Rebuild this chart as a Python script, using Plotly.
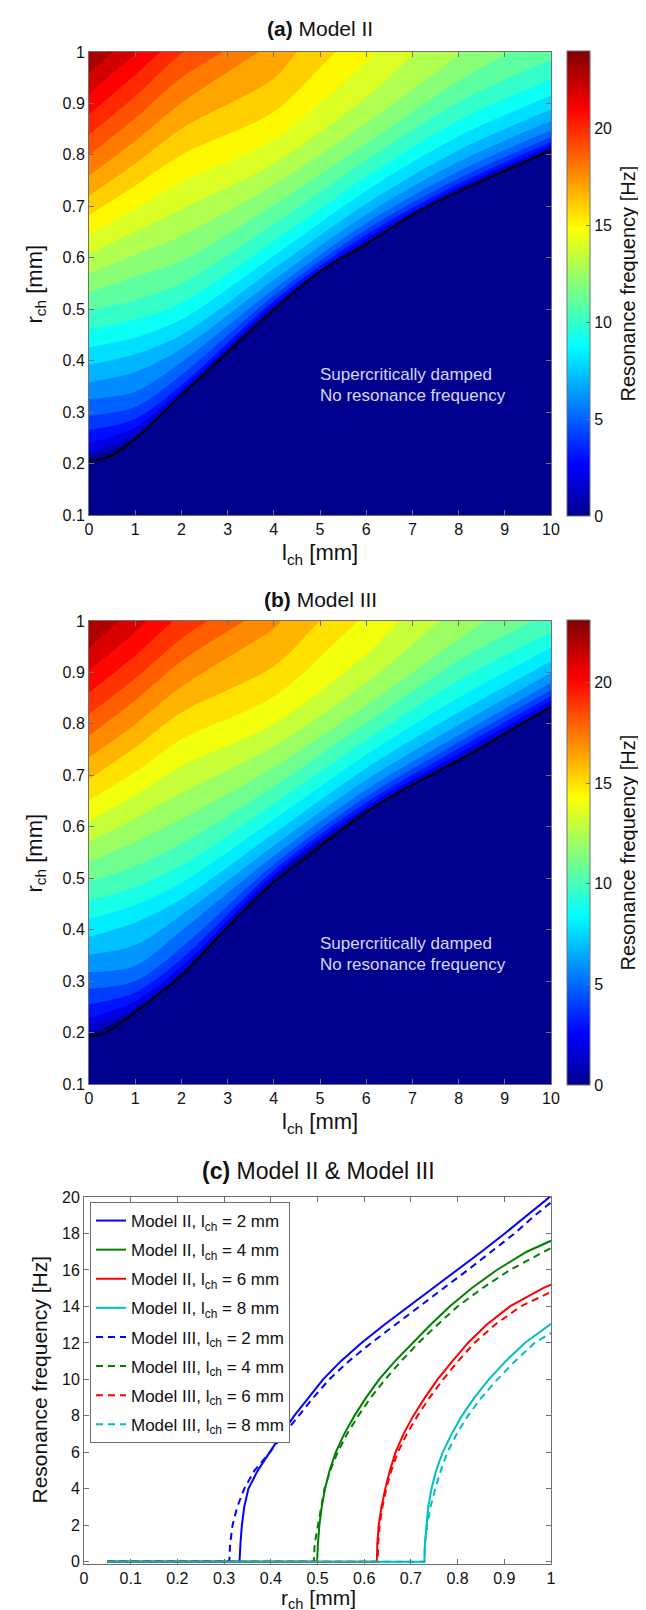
import plotly.graph_objects as go

# ---- panels (a) / (b): r_ch [mm] where the resonance frequency reaches 1, 2, 3 ... Hz,
#      read along a few channel lengths l_ch [mm] ----
l_cols = [0, 1, 2, 4, 6, 8, 10]

a_l0 = [0.210, 0.220, 0.240, 0.265, 0.293, 0.325, 0.358, 0.392, 0.426, 0.461, 0.497, 0.533,
        0.570, 0.607, 0.645, 0.683, 0.721, 0.760, 0.799, 0.839, 0.879, 0.919, 0.959]
a_l1 = [0.251, 0.258, 0.270, 0.287, 0.310, 0.340, 0.378, 0.413, 0.445, 0.479, 0.518, 0.563,
        0.606, 0.651, 0.696, 0.740, 0.783, 0.827, 0.871, 0.914, 0.956, 0.997]
a_l2 = [0.335, 0.338, 0.343, 0.352, 0.372, 0.397, 0.423, 0.450, 0.480, 0.512, 0.550, 0.594,
        0.643, 0.695, 0.748, 0.800, 0.851, 0.901, 0.950, 0.997]
a_l4 = [0.501, 0.504, 0.509, 0.516, 0.526, 0.539, 0.557, 0.579, 0.604, 0.632, 0.666, 0.703,
        0.742, 0.783, 0.830, 0.884, 0.948]
a_l6 = [0.628, 0.631, 0.637, 0.645, 0.655, 0.667, 0.684, 0.705, 0.730, 0.757, 0.789, 0.822,
        0.862, 0.912, 0.983]
a_l8 = [0.730, 0.733, 0.737, 0.744, 0.754, 0.768, 0.787, 0.809, 0.836, 0.867, 0.903, 0.944, 0.995]
a_l10 = [0.810, 0.813, 0.818, 0.825, 0.835, 0.848, 0.866, 0.888, 0.915, 0.947, 0.985]
# frequency at the top edge r_ch = 1 for each column [Hz]
a_ftop = [24.0, 22.0, 20.1, 17.6, 15.2, 13.05, 11.2]
# l_ch where each level leaves through the top edge (None: it does not)
a_exit = [None] * 11 + [9.1, 8.05, 7.09, 6.18, 5.33, 4.5, 3.68, 2.88, 2.08, 1.54, 1.03, 0.51]

b_l0 = [0.197, 0.209, 0.229, 0.255, 0.285, 0.317, 0.351, 0.386, 0.421, 0.457, 0.494, 0.532,
        0.571, 0.611, 0.652, 0.693, 0.735, 0.777, 0.819, 0.861, 0.904, 0.947, 0.990]
b_l1 = [0.242, 0.249, 0.261, 0.278, 0.300, 0.330, 0.370, 0.414, 0.448, 0.483, 0.524, 0.571,
        0.616, 0.661, 0.706, 0.754, 0.799, 0.846, 0.888, 0.933, 0.978]
b_l2 = [0.313, 0.318, 0.328, 0.343, 0.365, 0.398, 0.428, 0.459, 0.491, 0.525, 0.567, 0.615,
        0.666, 0.718, 0.770, 0.822, 0.872, 0.922, 0.966]
b_l4 = [0.494, 0.501, 0.507, 0.515, 0.527, 0.543, 0.563, 0.587, 0.614, 0.645, 0.679, 0.716,
        0.757, 0.800, 0.853, 0.912, 0.985]
b_l6 = [0.630, 0.633, 0.639, 0.647, 0.658, 0.672, 0.691, 0.714, 0.740, 0.769, 0.801, 0.836,
        0.880, 0.935]
b_l8 = [0.730, 0.735, 0.742, 0.752, 0.764, 0.778, 0.798, 0.822, 0.851, 0.885, 0.923, 0.965]
b_l10 = [0.835, 0.838, 0.845, 0.854, 0.866, 0.880, 0.899, 0.922, 0.948, 0.978]
b_ftop = [23.1, 21.4, 19.7, 17.2, 14.8, 12.55, 10.6]
b_exit = [None] * 10 + [9.59, 8.56, 7.6, 6.71, 5.83, 5.0, 4.17, 3.36, 2.56, 1.82, 1.24, 0.65, 0.06]

# boundary of the supercritically damped region
l_crit = [0, 0.25, 0.5, 1, 2, 3, 4, 5, 6, 7, 8, 9, 10]
a_r_crit = [0.207, 0.208, 0.216, 0.248, 0.333, 0.416, 0.499, 0.574, 0.627, 0.684, 0.729, 0.769, 0.809]
b_r_crit = [0.193, 0.196, 0.207, 0.240, 0.311, 0.405, 0.492, 0.562, 0.629, 0.682, 0.729, 0.781, 0.833]

a_fmax = 24.0
b_fmax = 23.1

# ---- panel (c): the l_ch = 2, 4, 6, 8 mm columns of both models ----
c_lengths = [2, 4, 6, 8]
r_start = 0.05

FONT = "Liberation Sans, Arial, sans-serif"
W, H = 646, 1610
JET = [[0, (0, 0, 143)], [0.111, (0, 0, 255)], [0.365, (0, 255, 255)],
       [0.619, (255, 255, 0)], [0.873, (255, 0, 0)], [1, (128, 0, 0)]]
JET_CS = [[s, "rgb(%d,%d,%d)" % c] for s, c in JET]
NAVY = "rgb(0,0,143)"
AXCOL = "#707070"
TXT = "#111"
L_MAX, R_MAX = 10, 1.0


def jet(v):
    v = min(max(v, 0), 1)
    for (s0, c0), (s1, c1) in zip(JET[:-1], JET[1:]):
        if v <= s1:
            t = (v - s0) / (s1 - s0)
            return "rgb(%d,%d,%d)" % tuple(round(a + (b - a) * t) for a, b in zip(c0, c1))
    return "rgb(128,0,0)"


def py(p):
    return 1 - p / H


def px_(p):
    return p / W


def label(x, y, text, size, angle=0):
    fig.add_annotation(x=px_(x), y=py(y), xref="paper", yref="paper", text=text,
                       showarrow=False, xanchor="center", yanchor="middle", textangle=angle,
                       font=dict(family=FONT, size=size, color=TXT))


fig = go.Figure()

panels = [
    ("x", "y", [a_l0, a_l1, a_l2, a_l4, a_l6, a_l8, a_l10], a_exit, a_r_crit, a_fmax,
     (44, 507), "<b>(a)</b> Model II", 20, 546),
    ("x2", "y2", [b_l0, b_l1, b_l2, b_l4, b_l6, b_l8, b_l10], b_exit, b_r_crit, b_fmax,
     (613, 1076), "<b>(b)</b> Model III", 592, 1115),
]
for xa, ya, cols, exits, r_crit, fmax, (top, bot), title, ty, xty in panels:
    nlev = len(exits)
    # band above the highest level
    fig.add_shape(type="rect", xref=xa + " domain", yref=ya + " domain", x0=0, x1=1, y0=0, y1=1,
                  fillcolor=jet(nlev / fmax), line_width=0, layer="below")
    for k in range(nlev, 0, -1):
        xs = [l for l, c in zip(l_cols, cols) if len(c) >= k]
        ys = [c[k - 1] for c in cols if len(c) >= k]
        ex = exits[k - 1]
        if ex is not None:
            slope = (R_MAX - ys[-1]) / (ex - xs[-1])
            xs += [ex, L_MAX]
            ys += [R_MAX, R_MAX + (L_MAX - ex) * slope]   # runs on above the frame (clipped)
        fig.add_trace(go.Scatter(
            x=xs, y=ys, xaxis=xa, yaxis=ya, mode="lines",
            line=dict(width=0, shape="spline", smoothing=0.9),
            fill="tozeroy", fillcolor=jet((k - 1) / fmax),
            showlegend=False, hoverinfo="skip",
        ))
    fig.add_trace(go.Scatter(
        x=l_crit, y=r_crit, xaxis=xa, yaxis=ya, mode="lines",
        line=dict(color="black", width=2, shape="spline", smoothing=0.8),
        fill="tozeroy", fillcolor=NAVY, showlegend=False, hoverinfo="skip",
    ))
    # continuous colour bar
    fig.add_trace(go.Scatter(
        x=[None], y=[None], xaxis=xa, yaxis=ya, mode="markers", showlegend=False,
        marker=dict(color=[0], cmin=0, cmax=fmax, colorscale=JET_CS, showscale=True,
                    colorbar=dict(
                        x=px_(559), xanchor="left", thickness=23, thicknessmode="pixels",
                        y=py((top + bot) / 2), yanchor="middle", len=bot - top + 2,
                        lenmode="pixels", outlinecolor=AXCOL, outlinewidth=1,
                        ticks="inside", ticklen=4, tickcolor=AXCOL,
                        tickvals=[0, 5, 10, 15, 20], xpad=0, ypad=0,
                        tickfont=dict(family=FONT, size=16, color=TXT))),
        hoverinfo="skip",
    ))
    for yy, txt in [(0.374, "Supercritically damped"), (0.333, "No resonance frequency")]:
        fig.add_annotation(x=4.96, y=yy, xref=xa, yref=ya, text=txt, showarrow=False,
                           xanchor="left", yanchor="middle",
                           font=dict(family=FONT, size=17, color="rgb(215,215,245)"))
    label(312, ty, title, 21)
    label(312, xty, "l<sub>ch</sub> [mm]", 22)
    label(27, (top + bot) / 2, "r<sub>ch</sub> [mm]", 22, angle=-90)
    label(619, (top + bot) / 2, "Resonance frequency [Hz]", 20, angle=-90)

# panel (c) curves: flat at 0 up to the critical radius, then the level crossings, then r_ch = 1
model_cols = [
    ("Model II", [a_l0, a_l1, a_l2, a_l4, a_l6, a_l8, a_l10], a_ftop, a_r_crit, "solid"),
    ("Model III", [b_l0, b_l1, b_l2, b_l4, b_l6, b_l8, b_l10], b_ftop, b_r_crit, "7px,5px"),
]
colors = {2: "rgb(0,0,255)", 4: "rgb(0,128,0)", 6: "rgb(255,0,0)", 8: "rgb(0,191,191)"}
gi = 0
for model, cols, ftop, r_crit, dash in model_cols:
    for l in c_lengths:
        col = cols[l_cols.index(l)]
        r0 = r_crit[l_crit.index(l)]
        xs = [r_start, r0] + col + [R_MAX]
        ys = [0, 0] + list(range(1, len(col) + 1)) + [ftop[l_cols.index(l)]]
        fig.add_trace(go.Scatter(
            x=xs, y=ys, xaxis="x3", yaxis="y3", mode="lines",
            name="%s, l<sub>ch</sub> = %d mm" % (model, l), legendgroup=str(gi),
            line=dict(color=colors[l], width=2, dash=dash), hoverinfo="skip",
        ))
        gi += 1

label(310, 1163, "<b>(c)</b> Model II &amp; Model III", 23)
label(310, 1591, "r<sub>ch</sub> [mm]", 21)
label(31, (1189 + 1556) / 2, "Resonance frequency [Hz]", 21, angle=-90)

ax = dict(showline=True, linecolor=AXCOL, linewidth=1, mirror="ticks", ticks="inside",
          ticklen=5, tickcolor=AXCOL, showgrid=False, zeroline=False,
          tickfont=dict(family=FONT, size=16, color=TXT))

fig.update_layout(
    width=W, height=H, margin=dict(l=0, r=0, t=0, b=0, autoexpand=False),
    paper_bgcolor="white", plot_bgcolor="white",
    xaxis=dict(ax, domain=[px_(81), px_(543)], range=[0, 10], dtick=1, anchor="y"),
    yaxis=dict(ax, domain=[py(507), py(44)], range=[0.1, 1], dtick=0.1, anchor="x"),
    xaxis2=dict(ax, domain=[px_(81), px_(543)], range=[0, 10], dtick=1, anchor="y2"),
    yaxis2=dict(ax, domain=[py(1076), py(613)], range=[0.1, 1], dtick=0.1, anchor="x2"),
    xaxis3=dict(ax, domain=[px_(76), px_(543)], range=[0, 1], dtick=0.1, anchor="y3"),
    yaxis3=dict(ax, domain=[py(1556), py(1189)], range=[-0.12, 20], tickvals=list(range(0, 21, 2)),
                anchor="x3"),
    legend=dict(x=px_(82), y=py(1194), xanchor="left", yanchor="top",
                bgcolor="white", bordercolor=AXCOL, borderwidth=1,
                itemwidth=30, tracegroupgap=4,
                font=dict(family=FONT, size=17, color=TXT)),
    showlegend=True,
)

fig.write_html("out.html")
